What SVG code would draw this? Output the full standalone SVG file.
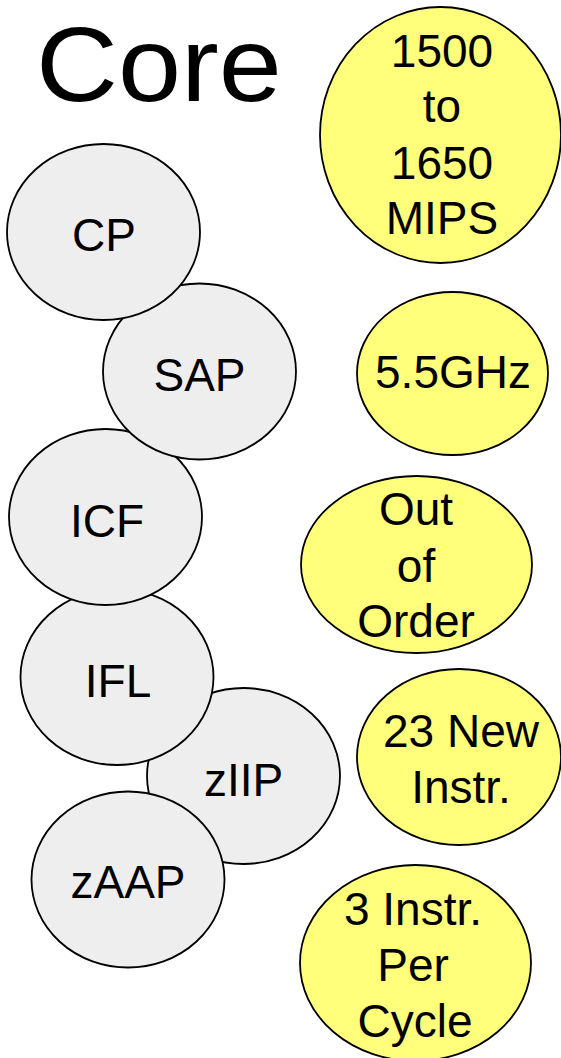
<svg xmlns="http://www.w3.org/2000/svg" width="561" height="1058" viewBox="0 0 561 1058">
<style>
text{font-family:"Liberation Sans",Arial,sans-serif;fill:#000;text-anchor:middle}
.t{font-size:46px}
.title{font-size:106px;text-anchor:start}
.g{fill:#eeeeee;stroke:#000;stroke-width:1.8}
.y{fill:#ffff7c;stroke:#000;stroke-width:1.8}
</style>
<rect width="561" height="1058" fill="#fff"/>
<g id="title"><text class="title" x="36" y="101" textLength="246" lengthAdjust="spacingAndGlyphs">Core</text></g>
<g id="connectors"></g>
<g id="zIIP"><ellipse class="g" cx="243.5" cy="776" rx="96.5" ry="88"/><text class="t" x="243.5" y="796">zIIP</text></g>
<g id="zAAP"><ellipse class="g" cx="128" cy="879.5" rx="96.5" ry="88"/><text class="t" x="128" y="898">zAAP</text></g>
<g id="IFL"><ellipse class="g" cx="117" cy="677" rx="96.5" ry="88"/><text class="t" x="118" y="697">IFL</text></g>
<g id="ICF"><ellipse class="g" cx="105.5" cy="517" rx="96.5" ry="88"/><text class="t" x="107" y="537">ICF</text></g>
<g id="SAP"><ellipse class="g" cx="199.5" cy="371.5" rx="96.5" ry="88"/><text class="t" x="199.5" y="391">SAP</text></g>
<g id="CP"><ellipse class="g" cx="103.5" cy="232" rx="96.5" ry="88"/><text class="t" x="104" y="251">CP</text></g>
<g id="mips"><ellipse class="y" cx="440.5" cy="135" rx="120.5" ry="128"/><text class="t" x="442" y="67">1500</text><text class="t" x="442" y="122">to</text><text class="t" x="442" y="179">1650</text><text class="t" x="442" y="234">MIPS</text></g>
<g id="ghz"><ellipse class="y" cx="452.5" cy="373.5" rx="95.5" ry="81.5"/><text class="t" x="453" y="388">5.5GHz</text></g>
<g id="ooo"><ellipse class="y" cx="416.5" cy="564.5" rx="115.5" ry="88.5"/><text class="t" x="416" y="525">Out</text><text class="t" x="416" y="582">of</text><text class="t" x="416" y="637">Order</text></g>
<g id="newinstr"><ellipse class="y" cx="459" cy="757" rx="102" ry="88"/><text class="t" x="461" y="747">23 New</text><text class="t" x="461" y="803">Instr.</text></g>
<g id="ipc"><ellipse class="y" cx="415.5" cy="963" rx="115.5" ry="98"/><text class="t" x="413" y="925">3 Instr.</text><text class="t" x="413" y="981">Per</text><text class="t" x="415" y="1037">Cycle</text></g>
</svg>
